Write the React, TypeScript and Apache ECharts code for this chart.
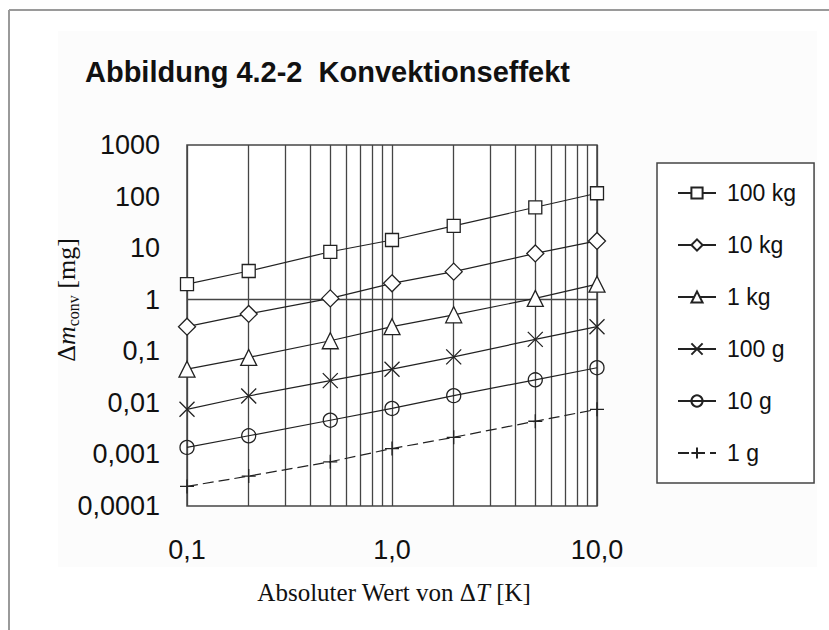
import React, { useEffect, useRef } from "react";
import * as echarts from "echarts";

const deltaT = [0.1, 0.2, 0.5, 1, 2, 5, 10];
const seriesNames = ["100 kg", "10 kg", "1 kg", "100 g", "10 g", "1 g"];
const kg100 = [2.0, 3.6, 8.5, 14.4, 27, 62, 116];
const kg10 = [0.3, 0.53, 1.06, 2.08, 3.5, 7.9, 13.8];
const kg1 = [0.045, 0.076, 0.16, 0.3, 0.51, 1.06, 2.0];
const g100 = [0.0075, 0.0136, 0.027, 0.045, 0.078, 0.17, 0.3];
const g10 = [0.00137, 0.0023, 0.0046, 0.0078, 0.0138, 0.028, 0.048];
const g1 = [0.00024, 0.00038, 0.00072, 0.0013, 0.00215, 0.0044, 0.0075];
const minorX = [0.2, 0.3, 0.4, 0.5, 0.6, 0.7, 0.8, 0.9, 2, 3, 4, 5, 6, 7, 8, 9];
const refY = 1;

const INK = "#222";
const GRID = "#454545";

const fmtComma = (v: number, fixed?: number) => {
  const n = Number(v.toPrecision(6));
  const s = fixed != null ? n.toFixed(fixed) : n.toString();
  return s.replace(".", ",");
};

export default function App() {
  const ref = useRef<HTMLDivElement>(null);
  useEffect(() => {
    if (!ref.current) return;
    const chart = echarts.init(ref.current, null, { renderer: "svg" });
    const allValues = [kg100, kg10, kg1, g100, g10, g1];
    const symbols = [
      { symbol: "rect", size: 13, fill: "#fff" },
      { symbol: "diamond", size: 17, fill: "#fff" },
      { symbol: "triangle", size: 16, fill: "#fff" },
      { symbol: "path://M0,0L10,10M10,0L0,10", size: 15, fill: "rgba(0,0,0,0)" },
      { symbol: "circle", size: 14, fill: "rgba(0,0,0,0)" },
      { symbol: "path://M5,0L5,10M0,5L10,5", size: 14, fill: "rgba(0,0,0,0)" },
    ];
    const series: any[] = allValues.map((vals, i) => ({
      name: seriesNames[i],
      type: "line",
      data: deltaT.map((x, j) => [x, vals[j]]),
      symbol: symbols[i].symbol,
      symbolSize: symbols[i].size,
      showAllSymbol: true,
      clip: false,
      z: 5,
      lineStyle: {
        color: INK,
        width: 1.2,
        type: i === 5 ? [11, 5] : "solid",
      },
      itemStyle: {
        color: symbols[i].fill,
        borderColor: INK,
        borderWidth: 1.3,
      },
      emphasis: { disabled: true },
    }));
    series[0].markLine = {
      silent: true,
      symbol: ["none", "none"],
      label: { show: false },
      lineStyle: { color: GRID, width: 1.3, type: "solid" },
      z: 1,
      data: [...minorX.map((x) => ({ xAxis: x })), { yAxis: refY }],
    };

    chart.setOption({
      animation: false,
      backgroundColor: "#fff",
      textStyle: { fontFamily: "'Liberation Sans', Arial, sans-serif" },
      title: {
        text: "Abbildung 4.2-2  Konvektionseffekt",
        left: 80,
        top: 52,
        textStyle: {
          fontSize: 29,
          fontWeight: "bold",
          color: "#111",
          fontFamily: "'Liberation Sans', Arial, sans-serif",
        },
      },
      graphic: [
        {
          type: "rect",
          z: -10,
          shape: { x: 58, y: 31, width: 759, height: 536 },
          style: { fill: "#fcfcfc" },
          silent: true,
        },
        {
          type: "line",
          z: -5,
          shape: { x1: 9, y1: 10, x2: 829, y2: 10 },
          style: { stroke: "#9a9a9a", lineWidth: 2 },
          silent: true,
        },
        {
          type: "line",
          z: -5,
          shape: { x1: 9, y1: 10, x2: 9, y2: 630 },
          style: { stroke: "#9a9a9a", lineWidth: 2 },
          silent: true,
        },
        {
          type: "text",
          x: 66,
          y: 300,
          rotation: Math.PI / 2,
          style: {
            text: "{a|Δ}{b|m}{c|conv}{a| [mg]}",
            align: "center",
            verticalAlign: "middle",
            fill: "#111",
            rich: {
              a: { fontFamily: "'Liberation Serif', 'Times New Roman', serif", fontSize: 26, fill: "#111", lineHeight: 30 },
              b: { fontFamily: "'Liberation Serif', 'Times New Roman', serif", fontSize: 26, fontStyle: "italic", fill: "#111", lineHeight: 30 },
              c: { fontFamily: "'Liberation Serif', 'Times New Roman', serif", fontSize: 16, fill: "#111", lineHeight: 30, verticalAlign: "bottom", padding: [14, 0, 0, 0] },
            },
          },
        },
        {
          type: "text",
          x: 394,
          y: 592,
          style: {
            text: "{n|Absoluter Wert von Δ}{i|T}{n| [K]}",
            align: "center",
            verticalAlign: "middle",
            fill: "#111",
            rich: {
              n: { fontFamily: "'Liberation Serif', 'Times New Roman', serif", fontSize: 25, fill: "#111" },
              i: { fontFamily: "'Liberation Serif', 'Times New Roman', serif", fontSize: 25, fontStyle: "italic", fill: "#111" },
            },
          },
        },
      ],
      legend: {
        orient: "vertical",
        left: 657,
        top: 163,
        padding: [18, 18, 18, 20],
        itemGap: 28,
        itemWidth: 38,
        itemHeight: 14,
        backgroundColor: "#fff",
        borderColor: "#444",
        borderWidth: 1.5,
        selectedMode: false,
        textStyle: { fontSize: 23, color: "#111", lineHeight: 24, padding: [0, 0, 0, 6] },
        data: seriesNames,
      },
      grid: {
        left: 187,
        top: 145,
        width: 410,
        height: 361,
        show: true,
        backgroundColor: "#fff",
        borderColor: GRID,
        borderWidth: 1.5,
      },
      xAxis: {
        type: "log",
        logBase: 10,
        min: 0.1,
        max: 10,
        axisLine: { show: false },
        axisTick: { show: false },
        splitLine: { show: true, lineStyle: { color: GRID, width: 1.3 } },
        axisLabel: {
          fontSize: 27,
          color: "#111",
          margin: 30,
          formatter: (v: number) => fmtComma(v, 1),
        },
      },
      yAxis: {
        type: "log",
        logBase: 10,
        min: 0.0001,
        max: 1000,
        splitNumber: 7,
        axisLine: { show: false },
        axisTick: { show: false },
        splitLine: { show: false },
        axisLabel: {
          fontSize: 27,
          color: "#111",
          margin: 27,
          formatter: (v: number) => fmtComma(v),
        },
      },
      series,
    });
    return () => chart.dispose();
  }, []);
  return (
    <div
      ref={ref}
      style={{ position: "fixed", left: 0, top: 0, width: 829, height: 630 }}
    />
  );
}
